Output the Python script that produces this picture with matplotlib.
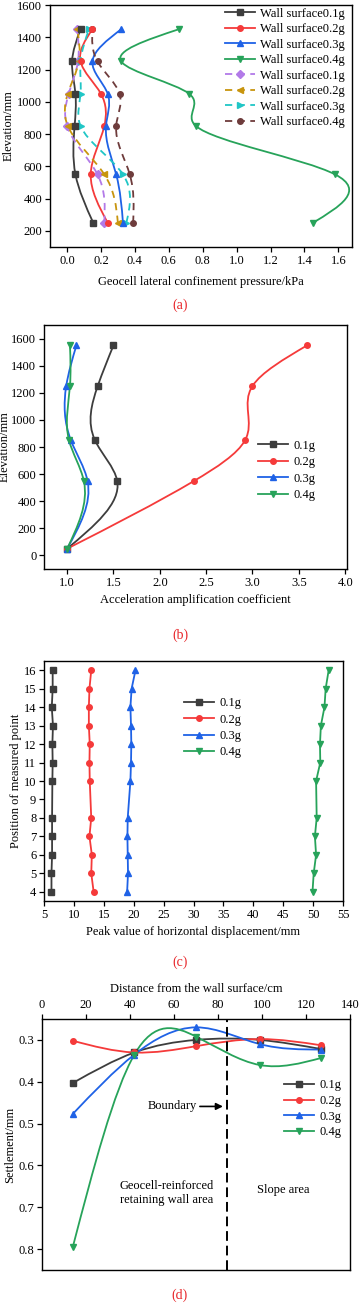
import numpy as np
import matplotlib
matplotlib.use("Agg")
import matplotlib.pyplot as plt
from matplotlib.path import Path
from matplotlib.patches import PathPatch
from matplotlib.lines import Line2D

plt.rcParams['font.family'] = ['Liberation Serif', 'DejaVu Serif']
plt.rcParams['font.size'] = 9
plt.rcParams['axes.linewidth'] = 1.0

# (a) geocell lateral confinement pressure (kPa) vs elevation (mm)
elev_a = [250, 550, 850, 1050, 1250, 1450]
press_wall = {
    "Wall surface0.1g": [0.155, 0.05, 0.045, 0.05, 0.03, 0.08],
    "Wall surface0.2g": [0.24, 0.14, 0.22, 0.20, 0.08, 0.15],
    "Wall surface0.3g": [0.33, 0.29, 0.23, 0.24, 0.15, 0.32],
    "Wall surface0.4g": [1.45, 1.58, 0.76, 0.72, 0.32, 0.66],
}
press_dash = {
    "Wall surface0.1g": [0.22, 0.18, 0.0, 0.01, 0.065, 0.06],
    "Wall surface0.2g": [0.30, 0.22, 0.005, 0.005, 0.07, 0.06],
    "Wall surface0.3g": [0.35, 0.33, 0.08, 0.08, 0.08, 0.13],
    "Wall surface0.4g": [0.39, 0.37, 0.29, 0.31, 0.18, 0.15],
}

# (b) acceleration amplification coefficient vs elevation
elev_b = [50, 550, 850, 1250, 1550]
amp = {
    "0.1g": [1.0, 1.54, 1.30, 1.33, 1.50],
    "0.2g": [1.0, 2.37, 2.92, 3.00, 3.59],
    "0.3g": [1.0, 1.22, 1.04, 0.99, 1.10],
    "0.4g": [1.0, 1.18, 1.02, 1.03, 1.03],
}

# (c) peak horizontal displacement (mm) vs measured point
points_c = [4, 5, 6, 7, 8, 10, 11, 12, 13, 14, 15, 16]
disp = {
    "0.1g": [6.25, 6.25, 6.35, 6.35, 6.35, 6.4, 6.45, 6.4, 6.5, 6.3, 6.45, 6.45],
    "0.2g": [13.3, 12.9, 13.0, 12.6, 12.9, 12.65, 12.6, 12.65, 12.5, 12.5, 12.6, 12.9],
    "0.3g": [18.9, 19.05, 19.0, 18.95, 19.0, 19.45, 19.55, 19.6, 19.55, 19.45, 19.65, 20.3],
    "0.4g": [49.9, 50.1, 50.5, 50.3, 50.6, 50.5, 51.2, 51.15, 51.3, 51.9, 52.1, 52.6],
}

# (d) settlement (mm) vs distance from wall surface (cm)
dist_d = [14, 42, 70, 99, 127]
settle = {
    "0.1g": [0.403, 0.33, 0.30, 0.30, 0.322],
    "0.2g": [0.302, 0.33, 0.315, 0.298, 0.313],
    "0.3g": [0.477, 0.335, 0.27, 0.31, 0.323],
    "0.4g": [0.795, 0.335, 0.292, 0.36, 0.343],
}
boundary_x = 84

colors = ["#3d3d3d", "#f53a3a", "#1f62e6", "#27a35a"]
dash_colors = ["#b27ae8", "#c8950e", "#20c6c6", "#6e3c3c"]
markers = ["s", "o", "^", "v"]
dash_markers = ["D", "<", ">", "o"]

W, H = 360, 1303
fig = plt.figure(figsize=(W / 100, H / 100), dpi=100)


def add_ax(l, r, t, b):
    ax = fig.add_axes([l / W, 1 - b / H, (r - l) / W, (b - t) / H])
    ax._px = (l, r)
    return ax


def ylabel_at(ax, text, xpix):
    # xpix: right edge of the rotated label, in figure pixels
    l, r = ax._px
    ax.set_ylabel(text, fontsize=9)
    ax.yaxis.set_label_coords((xpix - l) / (r - l), 0.5)


def spline_curve(ax, t, v, color, ls="-", swap=True, lw=1.3):
    # natural cubic spline drawn as bezier segments
    t = np.asarray(t, float)
    v = np.asarray(v, float)
    n = len(t)
    h = np.diff(t)
    A = np.zeros((n, n))
    rhs = np.zeros(n)
    A[0, 0] = A[-1, -1] = 1
    for i in range(1, n - 1):
        A[i, i - 1] = h[i - 1]
        A[i, i] = 2 * (h[i - 1] + h[i])
        A[i, i + 1] = h[i]
        rhs[i] = 6 * ((v[i + 1] - v[i]) / h[i] - (v[i] - v[i - 1]) / h[i - 1])
    M = np.linalg.solve(A, rhs)
    d = np.zeros(n)
    for i in range(n - 1):
        d[i] = (v[i + 1] - v[i]) / h[i] - h[i] * (2 * M[i] + M[i + 1]) / 6
    d[-1] = (v[-1] - v[-2]) / h[-1] + h[-1] * (M[-2] + 2 * M[-1]) / 6
    verts = [(t[0], v[0])]
    codes = [Path.MOVETO]
    for i in range(n - 1):
        verts += [(t[i] + h[i] / 3, v[i] + h[i] * d[i] / 3),
                  (t[i + 1] - h[i] / 3, v[i + 1] - h[i] * d[i + 1] / 3),
                  (t[i + 1], v[i + 1])]
        codes += [Path.CURVE4] * 3
    verts = np.array(verts)
    if swap:
        verts = verts[:, ::-1]
    ax.add_patch(PathPatch(Path(verts, codes), fill=False, ec=color, lw=lw,
                           ls=ls, capstyle="butt"))


def style(ax):
    ax.tick_params(direction="out", length=3.5, width=0.9, labelsize=9,
                   top=False, right=False, pad=2)


def panel_label(txt, y):
    fig.text(0.5, 1 - y / H, txt, color="#e8262a", ha="center", va="center",
             fontsize=10)


# ---- (a)
ax = add_ax(50, 352, 5, 247)
handles = []
for i, (name, vals) in enumerate(press_wall.items()):
    spline_curve(ax, elev_a, vals, colors[i])
for i, (name, vals) in enumerate(press_dash.items()):
    spline_curve(ax, elev_a, vals, dash_colors[i], ls=(0, (4, 3)))
for i, (name, vals) in enumerate(press_dash.items()):
    ax.plot(vals, elev_a, ls="none", marker=dash_markers[i], color=dash_colors[i], ms=4)
for i, (name, vals) in enumerate(press_wall.items()):
    ax.plot(vals, elev_a, ls="none", marker=markers[i], color=colors[i], ms=4)
for i, name in enumerate(press_wall):
    handles.append(Line2D([], [], color=colors[i], marker=markers[i], ms=4, lw=1.3, label=name))
for i, name in enumerate(press_dash):
    handles.append(Line2D([], [], color=dash_colors[i], marker=dash_markers[i], ms=4, lw=1.3,
                          ls=(0, (4, 3)), label=name))
ax.set_xlim(-0.1, 1.68)
ax.set_ylim(100, 1600)
ax.set_xticks(np.arange(0, 1.61, 0.2))
ax.set_yticks(np.arange(200, 1601, 200))
ax.xaxis.set_major_formatter(matplotlib.ticker.FormatStrFormatter("%.1f"))
ax.set_xlabel("Geocell lateral confinement pressure/kPa", fontsize=9, labelpad=7)
ylabel_at(ax, "Elevation/mm", 15)
style(ax)
ax.legend(handles=handles, loc="upper right", bbox_to_anchor=(1.0, 1.02), frameon=False,
          fontsize=9, handlelength=2.4, handletextpad=0.4, labelspacing=0.28,
          borderaxespad=0.2)
panel_label("(a)", 305)

# ---- (b)
ax = add_ax(44, 347, 325, 569)
for i, (name, vals) in enumerate(amp.items()):
    spline_curve(ax, elev_b, vals, colors[i])
    ax.plot(vals, elev_b, ls="none", marker=markers[i], color=colors[i], ms=4)
h_b = [Line2D([], [], color=colors[i], marker=markers[i], ms=4, lw=1.3, label=n)
       for i, n in enumerate(amp)]
ax.set_xlim(0.75, 4.02)
ax.set_ylim(-100, 1700)
ax.set_xticks(np.arange(1.0, 4.01, 0.5))
ax.set_yticks(np.arange(0, 1601, 200))
ax.xaxis.set_major_formatter(matplotlib.ticker.FormatStrFormatter("%.1f"))
ax.set_xlabel("Acceleration amplification coefficient", fontsize=9, labelpad=4)
ylabel_at(ax, "Elevation/mm", 11)
style(ax)
ax.legend(handles=h_b, loc="upper left", bbox_to_anchor=((253 - 44) / 303, 0.55),
          frameon=False, fontsize=9, handlelength=2.4, handletextpad=0.4,
          labelspacing=0.35, borderaxespad=0)
panel_label("(b)", 635)

# ---- (c)
ax = add_ax(44, 343, 661, 901)
for i, (name, vals) in enumerate(disp.items()):
    ax.plot(vals, points_c, color=colors[i], marker=markers[i], ms=4, lw=1.3, label=name)
ax.set_xlim(5, 55)
ax.set_ylim(3.5, 16.5)
ax.set_xticks(np.arange(5, 56, 5))
ax.set_yticks(np.arange(4, 17, 1))
ax.set_xlabel("Peak value of horizontal displacement/mm", fontsize=9, labelpad=4)
ylabel_at(ax, "Position of measured point", 22)
style(ax)
ax.legend(loc="upper left", bbox_to_anchor=((179 - 44) / 299, 0.87),
          frameon=False, fontsize=9, handlelength=2.4, handletextpad=0.4,
          labelspacing=0.35, borderaxespad=0)
panel_label("(c)", 962)

# ---- (d)
ax = add_ax(42, 350, 1019, 1270)
for i, (name, vals) in enumerate(settle.items()):
    spline_curve(ax, dist_d, vals, colors[i], swap=False)
    ax.plot(dist_d, vals, ls="none", marker=markers[i], color=colors[i], ms=4)
h_d = [Line2D([], [], color=colors[i], marker=markers[i], ms=4, lw=1.3, label=n)
       for i, n in enumerate(settle)]
ax.axvline(boundary_x, color="black", lw=1.4, ls=(0, (5, 2.5)))
ax.annotate("", xy=(boundary_x - 0.5, 0.459), xytext=(70.5, 0.459),
            arrowprops=dict(arrowstyle="-|>", color="black", lw=1.2, mutation_scale=10))
ax.text(70.5, 0.459, "Boundary", ha="right", va="center", fontsize=9)
ax.text(56.5, 0.666, "Geocell-reinforced\nretaining wall area", ha="center", va="center",
        fontsize=9, linespacing=1.2)
ax.text(109.5, 0.658, "Slope area", ha="center", va="center", fontsize=9)
ax.set_xlim(0, 140)
ax.set_ylim(0.85, 0.25)
ax.set_xticks(np.arange(0, 141, 20))
ax.set_yticks(np.arange(0.3, 0.81, 0.1))
ax.yaxis.set_major_formatter(matplotlib.ticker.FormatStrFormatter("%.1f"))
ax.xaxis.tick_top()
ax.xaxis.set_label_position("top")
ax.set_xlabel("Distance from the wall surface/cm", fontsize=9, labelpad=5)
ylabel_at(ax, "Settlement/mm", 16)
ax.tick_params(direction="out", length=3.5, width=0.9, labelsize=9, top=True,
               bottom=False, right=False, pad=2)
ax.legend(handles=h_d, loc="upper left", bbox_to_anchor=((279 - 42) / 308, 0.78),
          frameon=False, fontsize=9, handlelength=2.4, handletextpad=0.4,
          labelspacing=0.3, borderaxespad=0)
panel_label("(d)", 1295)

fig.savefig("out.png", dpi=100)
